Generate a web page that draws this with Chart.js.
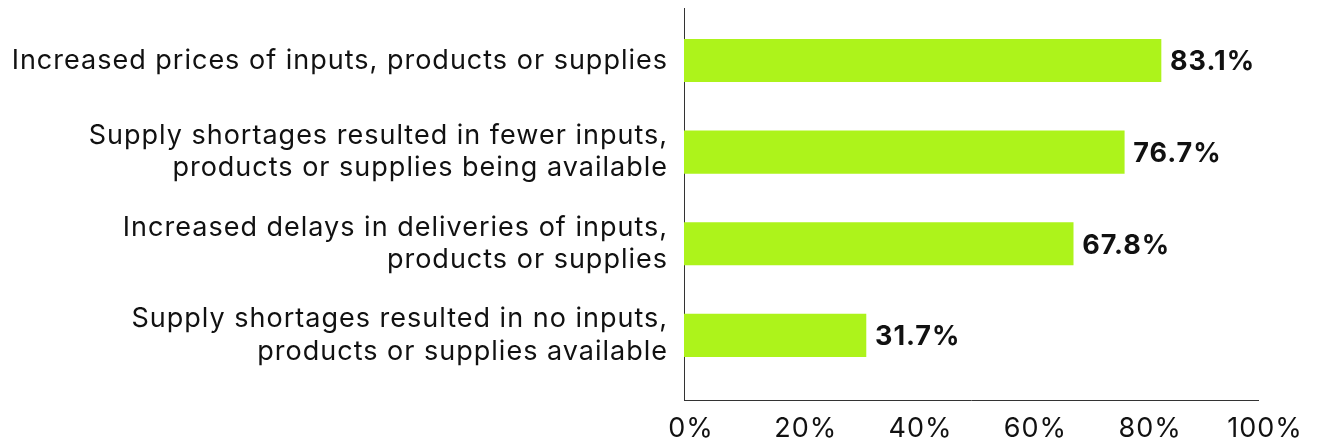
<!DOCTYPE html>
<html>
<head>
<meta charset="utf-8">
<script src="https://cdn.jsdelivr.net/npm/chart.js@4.4.1/dist/chart.umd.min.js"></script>
<style>
  html, body { margin: 0; padding: 0; background: #ffffff; }
  #wrap { width: 1318px; height: 445px; position: relative; }
</style>
</head>
<body>
<div id="wrap"><canvas id="chart"></canvas></div>
<script>
// Survey responses: share of businesses reporting each supply-chain issue
const categories = [
  ["Increased prices of inputs, products or supplies"],
  ["Supply shortages resulted in fewer inputs,", "products or supplies being available"],
  ["Increased delays in deliveries of inputs,", "products or supplies"],
  ["Supply shortages resulted in no inputs,", "products or supplies available"]
];
const shares = [83.1, 76.7, 67.8, 31.7];
const xTicks = [0, 20, 40, 60, 80, 100];

const FONT = "Inter";
const FONT_SIZE = 27;
const TRACKING = "1px";

// Slightly open letter spacing for every text drawn on the canvas
const tracking = {
  id: "tracking",
  beforeUpdate(chart) { chart.ctx.letterSpacing = TRACKING; },
  beforeLayout(chart) { chart.ctx.letterSpacing = TRACKING; },
  beforeDraw(chart) { chart.ctx.letterSpacing = TRACKING; }
};

// Value labels printed just past the end of each bar
const valueLabels = {
  id: "valueLabels",
  afterDatasetsDraw(chart) {
    const { ctx } = chart;
    const meta = chart.getDatasetMeta(0);
    ctx.save();
    ctx.letterSpacing = TRACKING;
    ctx.font = "bold " + FONT_SIZE + "px " + FONT;
    ctx.fillStyle = "#111111";
    ctx.textAlign = "left";
    ctx.textBaseline = "alphabetic";
    meta.data.forEach((bar, i) => {
      ctx.fillText(shares[i].toFixed(1) + "%", bar.x + 9, bar.y + FONT_SIZE * 0.727 / 2);
    });
    ctx.restore();
  }
};

new Chart(document.getElementById("chart"), {
  type: "bar",
  data: {
    datasets: [{
      data: shares.map((v, i) => ({ x: v, y: i })),
      backgroundColor: "#adf31b",
      borderWidth: 0,
      barThickness: 42.5
    }]
  },
  plugins: [tracking, valueLabels],
  options: {
    indexAxis: "y",
    responsive: true,
    maintainAspectRatio: false,
    animation: false,
    layout: { padding: { top: 8, right: 60, bottom: 0, left: 0 } },
    plugins: { legend: { display: false }, tooltip: { enabled: false } },
    scales: {
      x: {
        type: "linear",
        min: 0,
        max: 100,
        afterBuildTicks(axis) { axis.ticks = xTicks.map(v => ({ value: v })); },
        afterFit(axis) { axis.height = 45; axis.paddingLeft = 0; axis.paddingRight = 0; },
        grid: { display: false, drawTicks: false },
        border: { display: true, color: "#333333", width: 1 },
        ticks: {
          padding: 13,
          labelOffset: 7,
          maxRotation: 0,
          color: "#111111",
          font: { family: FONT, size: FONT_SIZE, lineHeight: 1.2 },
          callback: v => v + "%"
        }
      },
      y: {
        type: "linear",
        reverse: true,
        offset: false,
        min: -0.573,
        max: 3.706,
        afterBuildTicks(axis) { axis.ticks = categories.map((c, i) => ({ value: i })); },
        afterFit(axis) { axis.width = 684; axis.paddingTop = 0; axis.paddingBottom = 0; },
        grid: { display: false, drawTicks: false },
        border: { display: true, color: "#333333", width: 1 },
        ticks: {
          padding: 16,
          color: "#111111",
          font: { family: FONT, size: FONT_SIZE, lineHeight: 1.19 },
          callback: v => categories[v]
        }
      }
    }
  }
});
</script>
</body>
</html>
